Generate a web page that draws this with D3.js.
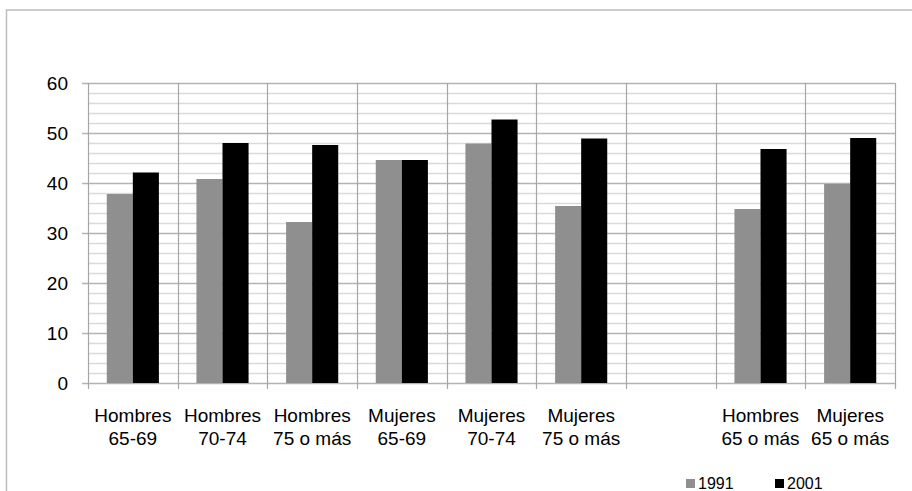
<!DOCTYPE html>
<html>
<head>
<meta charset="utf-8">
<script src="https://cdn.jsdelivr.net/npm/d3@7"></script>
<style>
  body { margin: 0; background: #fff; }
  text { font-family: "Liberation Sans", Arial, sans-serif; fill: #000; }
</style>
</head>
<body>
<div id="chart"></div>
<script>
// categories (one empty slot in the x axis, as in the original)
var categories = [
  ["Hombres", "65-69"], ["Hombres", "70-74"], ["Hombres", "75 o más"],
  ["Mujeres", "65-69"], ["Mujeres", "70-74"], ["Mujeres", "75 o más"],
  ["", ""],
  ["Hombres", "65 o más"], ["Mujeres", "65 o más"]
];
var series = ["1991", "2001"];
var values1991 = [37.8, 40.8, 32.2, 44.6, 47.9, 35.4, null, 34.8, 39.8];
var values2001 = [42.1, 48.0, 47.6, 44.6, 52.7, 48.9, null, 46.8, 49.0];
var yTicks = [0, 10, 20, 30, 40, 50, 60];
var colors = { "1991": "#8f8f8f", "2001": "#000000" };

var W = 912, H = 491;
var svg = d3.select('#chart').append('svg')
  .attr('width', W)
  .attr('height', H)

// outer chart frame
svg.append('rect')
  .attr('x', 6.5).attr('y', 10)
  .attr('width', W + 20).attr('height', H + 20)
  .attr('fill', 'none').attr('stroke', '#bdbdbd').attr('stroke-width', 1.5)

var pLeft = 88, pRight = 895, pTop = 83, pBottom = 383;

var x = d3.scaleBand().domain(d3.range(categories.length)).range([pLeft, pRight])
var x1 = d3.scaleBand().domain(series).range([0, x.bandwidth()]).paddingOuter(0.72)
var y = d3.scaleLinear().domain([0, 60]).range([pBottom, pTop])

// minor gridlines every 2
svg.append('g').selectAll('line')
  .data(d3.range(2, 60, 2).filter(function(d){ return d % 10 != 0 }))
  .enter().append('line')
    .attr('x1', pLeft).attr('x2', pRight)
    .attr('y1', function(d){ return Math.round(y(d)) + 0.5 })
    .attr('y2', function(d){ return Math.round(y(d)) + 0.5 })
    .attr('stroke', '#dadada').attr('stroke-width', 1.3)

// major gridlines (with tick marks to the left)
svg.append('g').selectAll('line')
  .data(yTicks)
  .enter().append('line')
    .attr('x1', pLeft - 6).attr('x2', pRight)
    .attr('y1', function(d){ return Math.round(y(d)) + 0.5 })
    .attr('y2', function(d){ return Math.round(y(d)) + 0.5 })
    .attr('stroke', '#b3b3b3').attr('stroke-width', 1.3)

// vertical category separators
svg.append('g').selectAll('line')
  .data(d3.range(categories.length + 1))
  .enter().append('line')
    .attr('x1', function(i){ return Math.round(pLeft + i * x.step()) + 0.5 })
    .attr('x2', function(i){ return Math.round(pLeft + i * x.step()) + 0.5 })
    .attr('y1', pTop).attr('y2', pBottom + 6)
    .attr('stroke', '#a6a6a6').attr('stroke-width', 1.2)

// y axis labels
svg.append('g').selectAll('text')
  .data(yTicks)
  .enter().append('text')
    .attr('x', 68)
    .attr('y', function(d){ return y(d) })
    .attr('dy', '0.36em')
    .attr('text-anchor', 'end')
    .style('font-size', '19px')
    .text(function(d){ return d })

// bars
var data = categories.map(function(c, i){
  return [{ s: "1991", v: values1991[i] }, { s: "2001", v: values2001[i] }]
})
var groups = svg.append('g').selectAll('g')
  .data(data)
  .enter().append('g')
    .attr('transform', function(d, i){ return 'translate(' + x(i) + ',0)' })

groups.selectAll('rect')
  .data(function(d){ return d.filter(function(e){ return e.v != null }) })
  .enter().append('rect')
    .attr('x', function(d){ return x1(d.s) })
    .attr('width', x1.bandwidth())
    .attr('y', function(d){ return y(d.v) })
    .attr('height', function(d){ return y(0) - y(d.v) })
    .attr('fill', function(d){ return colors[d.s] })

// category labels
var labels = svg.append('g').selectAll('text')
  .data(categories)
  .enter().append('text')
    .attr('text-anchor', 'middle')
    .style('font-size', '19px')
    .attr('transform', function(d, i){ return 'translate(' + (x(i) + x.bandwidth() / 2) + ',0)' })
labels.append('tspan').attr('x', 0).attr('y', 422).text(function(d){ return d[0] })
labels.append('tspan').attr('x', 0).attr('y', 445).text(function(d){ return d[1] })

// legend
var legendX = [686, 775];
var legend = svg.append('g').selectAll('g')
  .data(series)
  .enter().append('g')
    .attr('transform', function(d, i){ return 'translate(' + legendX[i] + ',479)' })
legend.append('rect')
  .attr('width', 9).attr('height', 9)
  .attr('fill', function(d){ return colors[d] })
legend.append('text')
  .attr('x', 12).attr('y', 10)
  .style('font-size', '16px')
  .text(function(d){ return d })
</script>
</body>
</html>
